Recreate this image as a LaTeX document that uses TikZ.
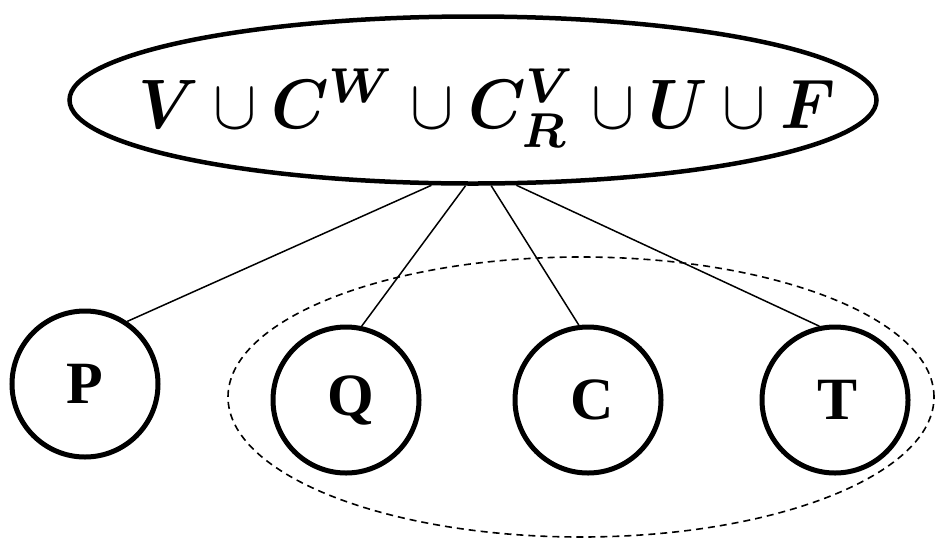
\documentclass[tikz,border=0pt]{standalone}
\usepackage{amsmath}
\usepackage{bm}
\usepackage{graphicx}
\usepackage{fontspec}
\newfontfamily\lab{Liberation Serif}
\usetikzlibrary{shapes.geometric}
\begin{document}
\begin{tikzpicture}[x=1pt,y=-1pt,
  topell/.style={draw,ellipse,line width=4.5pt,minimum width=807pt,minimum height=167pt,inner sep=0pt},
  circ/.style={draw,circle,line width=5pt,minimum size=146pt,inner sep=0pt,font=\lab\bfseries\fontsize{60}{64}\selectfont},
  grpell/.style={draw,ellipse,dash pattern=on 7pt off 5pt,line width=1.6pt,minimum width=706pt,minimum height=280pt,inner sep=0pt},
  conn/.style={line width=1.5pt}]
\useasboundingbox (0,0) rectangle (936,547);
\node[grpell] (grp) at (581,397) {};
\node[topell] (top) at (473,100) {};
\node[anchor=base,inner sep=0pt] (toptext) at (487,128) {\scalebox{6.5}[7]{$\bm{V}\cup\bm{C}^{\bm{W}}\cup\bm{C}^{\bm{V}}_{\bm{R}}\cup\bm{U}\cup\bm{F}$}};
\node[circ] (P) at (85,384) {P};
\node[circ] (Q) at (346,400) {\hspace{9pt}Q};
\node[circ] (C) at (588,400) {\hspace{9pt}C};
\node[circ] (T) at (835,400) {\hspace{4pt}T};
\draw[conn] (top.-116) -- (P.56);
\draw[conn] (top.-95) -- (Q.78);
\draw[conn] (top.-78) -- (C.97);
\draw[conn] (top.-63) -- (T.102);
\end{tikzpicture}
\end{document}
